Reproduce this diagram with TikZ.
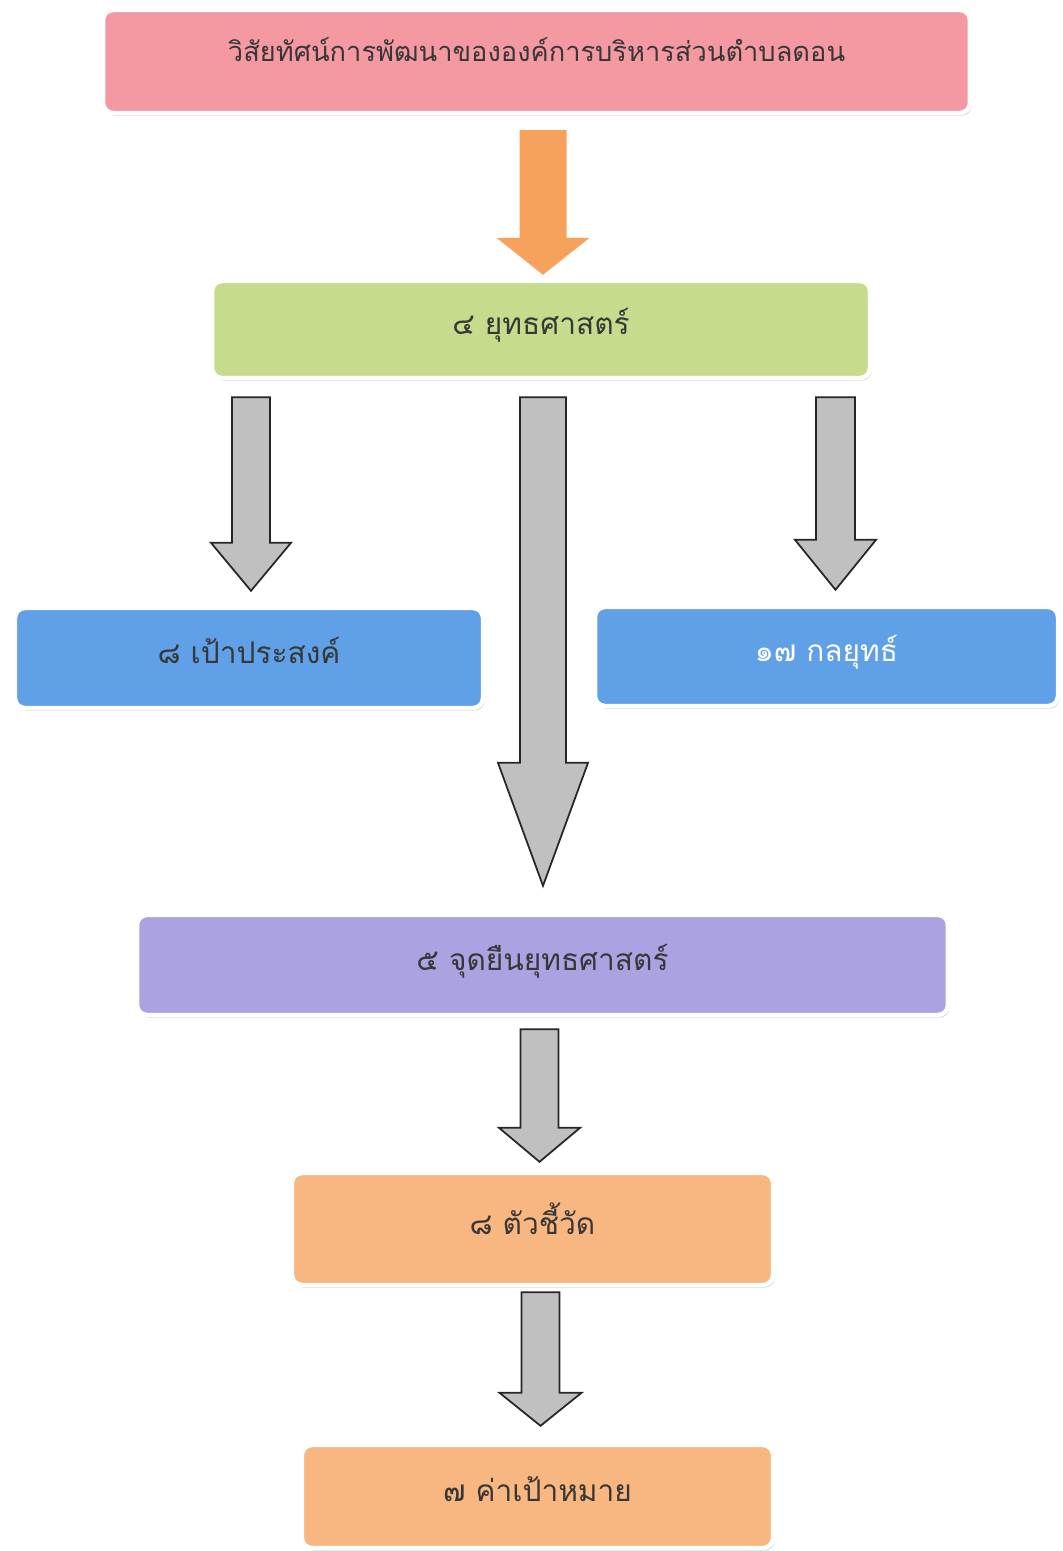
\documentclass[tikz,border=0pt]{standalone}
\usepackage{fontspec}
\newfontfamily\thaifont[Script=Thai]{Loma}
\usetikzlibrary{calc,shadows}

\definecolor{visionpink}{RGB}{244,152,162}
\definecolor{stratgreen}{RGB}{198,220,140}
\definecolor{goalblue}{RGB}{95,160,230}
\definecolor{standpurple}{RGB}{171,162,226}
\definecolor{kpiorange}{RGB}{248,182,128}
\definecolor{arroworange}{RGB}{247,162,92}
\definecolor{arrowgray}{RGB}{192,192,192}
\definecolor{textgray}{RGB}{55,55,55}

\tikzset{
  box/.style={rectangle, rounded corners=0.2cm, draw=white, line width=2.5pt,
    text=textgray, font=\thaifont\fontsize{17}{20}\selectfont,
    text height=0.45cm, text depth=0.25cm,
    drop shadow={shadow xshift=1pt, shadow yshift=-1.5pt, fill=black!35, opacity=.45}},
  orangearrow/.style={fill=arroworange, draw=none},
  grayarrow/.style={fill=arrowgray, draw=black!85, line width=1pt, line join=miter},
}

% block arrow: style, top, tip, shaft half width, head half width, head length
\newcommand{\blockarrow}[6]{%
  \draw[#1] ($(#2)+(-#4,0)$) -- ($(#3)+(-#4,-#6)$) -- ($(#3)+(-#5,-#6)$) -- (#3)
    -- ($(#3)+(#5,-#6)$) -- ($(#3)+(#4,-#6)$) -- ($(#2)+(#4,0)$) -- cycle;}

\begin{document}
\begin{tikzpicture}[x=0.02cm, y=-0.02cm]
\useasboundingbox (0,0) rectangle (1062,1551);

% boxes
\node[box, fill=visionpink, font=\thaifont\fontsize{15.5}{18}\selectfont, text depth=0.45cm,
  minimum width=17.34cm, minimum height=2.06cm] (vision) at (536.5,61.5) {วิสัยทัศน์การพัฒนาขององค์การบริหารส่วนตำบลดอน};
\node[box, fill=stratgreen, minimum width=13.16cm, minimum height=1.94cm] (strat) at (541,329.5) {๔ ยุทธศาสตร์};
\node[box, fill=goalblue, minimum width=9.36cm, minimum height=2cm] (goal) at (249,658) {๘ เป้าประสงค์};
\node[box, fill=goalblue, text=white, minimum width=9.26cm, minimum height=1.98cm] (tactic) at (826.5,656.5) {๑๗ กลยุทธ์};
\node[box, fill=standpurple, minimum width=16.22cm, minimum height=2cm] (stand) at (542.5,965) {๕ จุดยืนยุทธศาสตร์};
\node[box, fill=kpiorange, minimum width=9.62cm, minimum height=2.24cm] (kpi) at (532.5,1229) {๘ ตัวชี้วัด};
\node[box, fill=kpiorange, minimum width=9.42cm, minimum height=2.06cm] (target) at (537.5,1496.5) {๗ ค่าเป้าหมาย};

% arrow ends
\coordinate (a1) at ($(vision.south -| strat)+(2,15)$);
\coordinate (t1) at ($(strat.north)+(2,-4)$);
\coordinate (a2) at ($(strat.south -| goal)+(2,17)$);
\coordinate (t2) at ($(goal.north)+(2,-15)$);
\coordinate (a3) at ($(strat.south)+(2,17)$);
\coordinate (t3) at ($(stand.north -| strat)+(2,-27)$);
\coordinate (a4) at ($(strat.south -| tactic)+(9,17)$);
\coordinate (t4) at ($(tactic.north)+(9,-15)$);
\coordinate (a5) at ($(stand.south -| kpi)+(7,12)$);
\coordinate (t5) at ($(kpi.north)+(7,-9)$);
\coordinate (a6) at ($(kpi.south -| target)+(3,5)$);
\coordinate (t6) at ($(target.north)+(3,-17)$);

% arrows
\blockarrow{orangearrow}{a1}{t1}{23.5}{46.5}{37}
\blockarrow{grayarrow}{a2}{t2}{19}{40}{48}
\blockarrow{grayarrow}{a3}{t3}{23}{45}{123}
\blockarrow{grayarrow}{a4}{t4}{19.5}{40.5}{50}
\blockarrow{grayarrow}{a5}{t5}{19}{40.5}{34}
\blockarrow{grayarrow}{a6}{t6}{19}{41}{33}
\end{tikzpicture}
\end{document}
